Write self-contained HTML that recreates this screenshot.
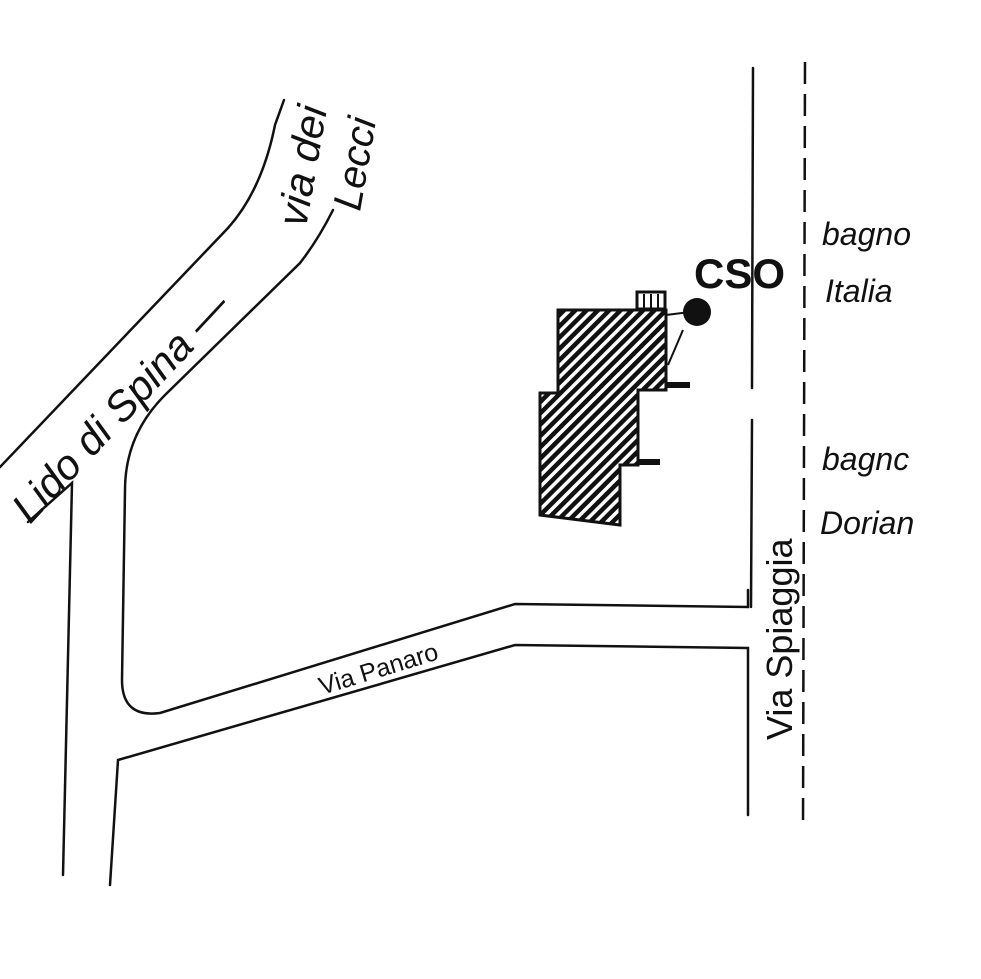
<!DOCTYPE html>
<html><head><meta charset="utf-8"><style>
html,body{margin:0;padding:0;background:#fff;}
svg{display:block}
</style></head><body>
<svg width="981" height="979" viewBox="0 0 981 979" xmlns="http://www.w3.org/2000/svg">
<defs>
<pattern id="h" patternUnits="userSpaceOnUse" width="8" height="8" patternTransform="rotate(45)">
<rect width="8" height="8" fill="#fff"/><rect width="4.5" height="8" fill="#111"/>
</pattern>
</defs>
<g fill="none" stroke="#111" stroke-width="2.5" stroke-linecap="round">
<path d="M0,467 L228,228 Q262,190 275,125 L284,100"/>
<path d="M333,210 Q318,240 300,263 L165,395 Q125,435 125,490 L122,680 Q122,718 160,713 L515,604 L748,607 L748,590"/>
<path d="M28,522 L72,483 L63,875"/>
<path d="M110,885 L118,760 L515,645 L748,648 L748,815"/>
<path d="M753,68 L752,388"/>
<path d="M752,420 L751,607"/>
</g>
<path d="M805,62 L803,830" stroke="#111" stroke-width="2.5" stroke-dasharray="22,10" fill="none"/>
<path d="M558,310 L666,310 L666,390 L638,390 L638,465 L620,465 L620,525 L540,515 L540,393 L558,393 Z" fill="url(#h)" stroke="#111" stroke-width="3"/>
<rect x="637" y="292" width="28" height="17" fill="#fff" stroke="#111" stroke-width="3"/>
<path d="M644,294 V308 M651,294 V308 M658,294 V308" stroke="#111" stroke-width="2"/>
<path d="M666,385 L690,385 M638,462 L660,462" stroke="#111" stroke-width="6"/>
<path d="M666,315 L690,312 M683,330 L668,365" stroke="#111" stroke-width="2"/>
<circle cx="697" cy="312" r="14" fill="#111"/>
<g font-family="'Liberation Sans', sans-serif" fill="#111">
<text x="694" y="288" font-size="42" font-weight="bold">CSO</text>
<text x="822" y="245" font-size="32" font-style="italic">bagno</text>
<text x="825" y="302" font-size="32" font-style="italic">Italia</text>
<text x="822" y="470" font-size="32" font-style="italic">bagnc</text>
<text x="820" y="534" font-size="32" font-style="italic">Dorian</text>
<text transform="translate(30,525) rotate(-47)" font-size="42" font-style="italic">Lido di Spina —</text>
<text transform="translate(306,228) rotate(-80)" font-size="42" font-style="italic">via dei</text>
<text transform="translate(360,212) rotate(-80)" font-size="40" font-style="italic">Lecci</text>
<text transform="translate(322,695) rotate(-17)" font-size="25">Via Panaro</text>
<text transform="translate(792,740) rotate(-90)" font-size="36">Via Spiaggia</text>
</g>
</svg>
</body></html>
